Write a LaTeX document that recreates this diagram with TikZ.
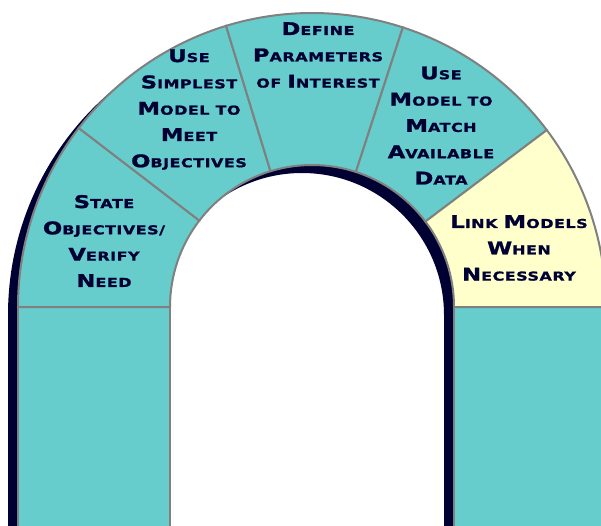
\documentclass[tikz,border=0pt]{standalone}
\usepackage{fontspec}
\newfontfamily\archfont[FakeStretch=1.3,LetterSpace=4,FakeBold=1.2]{DejaVu Sans}
\usetikzlibrary{calc}
\definecolor{tealA}{HTML}{66CCCC}
\definecolor{creamA}{HTML}{FFFFCC}
\definecolor{navyA}{HTML}{000033}
\definecolor{edgeA}{HTML}{808080}
\newcommand\BL{\fontsize{17.5}{26.3}\selectfont}
\begin{document}
\begin{tikzpicture}[x=1pt,y=1pt,
  seg/.style={fill=tealA,draw=edgeA,line width=2pt},
  segy/.style={seg,fill=creamA},
  lbl/.style={text=navyA,align=center,inner sep=0pt,
    font=\archfont\bfseries\fontsize{12.3}{26.3}\selectfont}]
\useasboundingbox (0,0) rectangle (601,525);
\clip (0,0) rectangle (601,525);
\coordinate (C) at (312,218);
\coordinate (S) at (302,210);
% shadow (shifted arch)
\fill[navyA] ($(S)+(-294,-240)$) -- ($(S)+(-294,0)$)
  arc[start angle=180,end angle=0,radius=294]
  -- ($(S)+(294,-240)$) -- ($(S)+(142,-240)$) -- ($(S)+(142,0)$)
  arc[start angle=0,end angle=180,radius=142]
  -- ($(S)+(-142,-240)$) -- cycle;
% pillars
\path[seg] (18,-5) rectangle (170,218);
\path[seg] (454,-5) rectangle (612,218);
% arch segments
\path[seg] ($(C)+(142.5:294)$) arc[start angle=142.5,end angle=180,radius=294]
  -- ($(C)+(180:142)$) arc[start angle=180,end angle=142.5,radius=142] -- cycle;
\path[seg] ($(C)+(107:294)$) arc[start angle=107,end angle=142.5,radius=294]
  -- ($(C)+(142.5:142)$) arc[start angle=142.5,end angle=107,radius=142] -- cycle;
\path[seg] ($(C)+(72:294)$) arc[start angle=72,end angle=107,radius=294]
  -- ($(C)+(107:142)$) arc[start angle=107,end angle=72,radius=142] -- cycle;
\path[seg] ($(C)+(37:294)$) arc[start angle=37,end angle=72,radius=294]
  -- ($(C)+(72:142)$) arc[start angle=72,end angle=37,radius=142] -- cycle;
\path[segy] ($(C)+(0:294)$) arc[start angle=0,end angle=37,radius=294]
  -- ($(C)+(37:142)$) arc[start angle=37,end angle=0,radius=142] -- cycle;
% labels
\node[lbl] (n1) at (104,284) {{\BL S}TATE\\{\BL O}BJECTIVES/\\{\BL V}ERIFY\\{\BL N}EED};
\node[lbl] (n2) at (189,415.5) {{\BL U}SE\\{\BL S}IMPLEST\\{\BL M}ODEL TO\\{\BL M}EET\\{\BL O}BJECTIVES};
\node[lbl] (n3) at (318,470) {{\BL D}EFINE\\{\BL P}ARAMETERS\\OF {\BL I}NTEREST};
\node[lbl] (n4) at (441,399.5) {{\BL U}SE\\{\BL M}ODEL TO\\{\BL M}ATCH\\{\BL A}VAILABLE\\{\BL D}ATA};
\node[lbl] (n5) at (519,277) {{\BL L}INK {\BL M}ODELS\\{\BL W}HEN\\{\BL N}ECESSARY};
\end{tikzpicture}
\end{document}
